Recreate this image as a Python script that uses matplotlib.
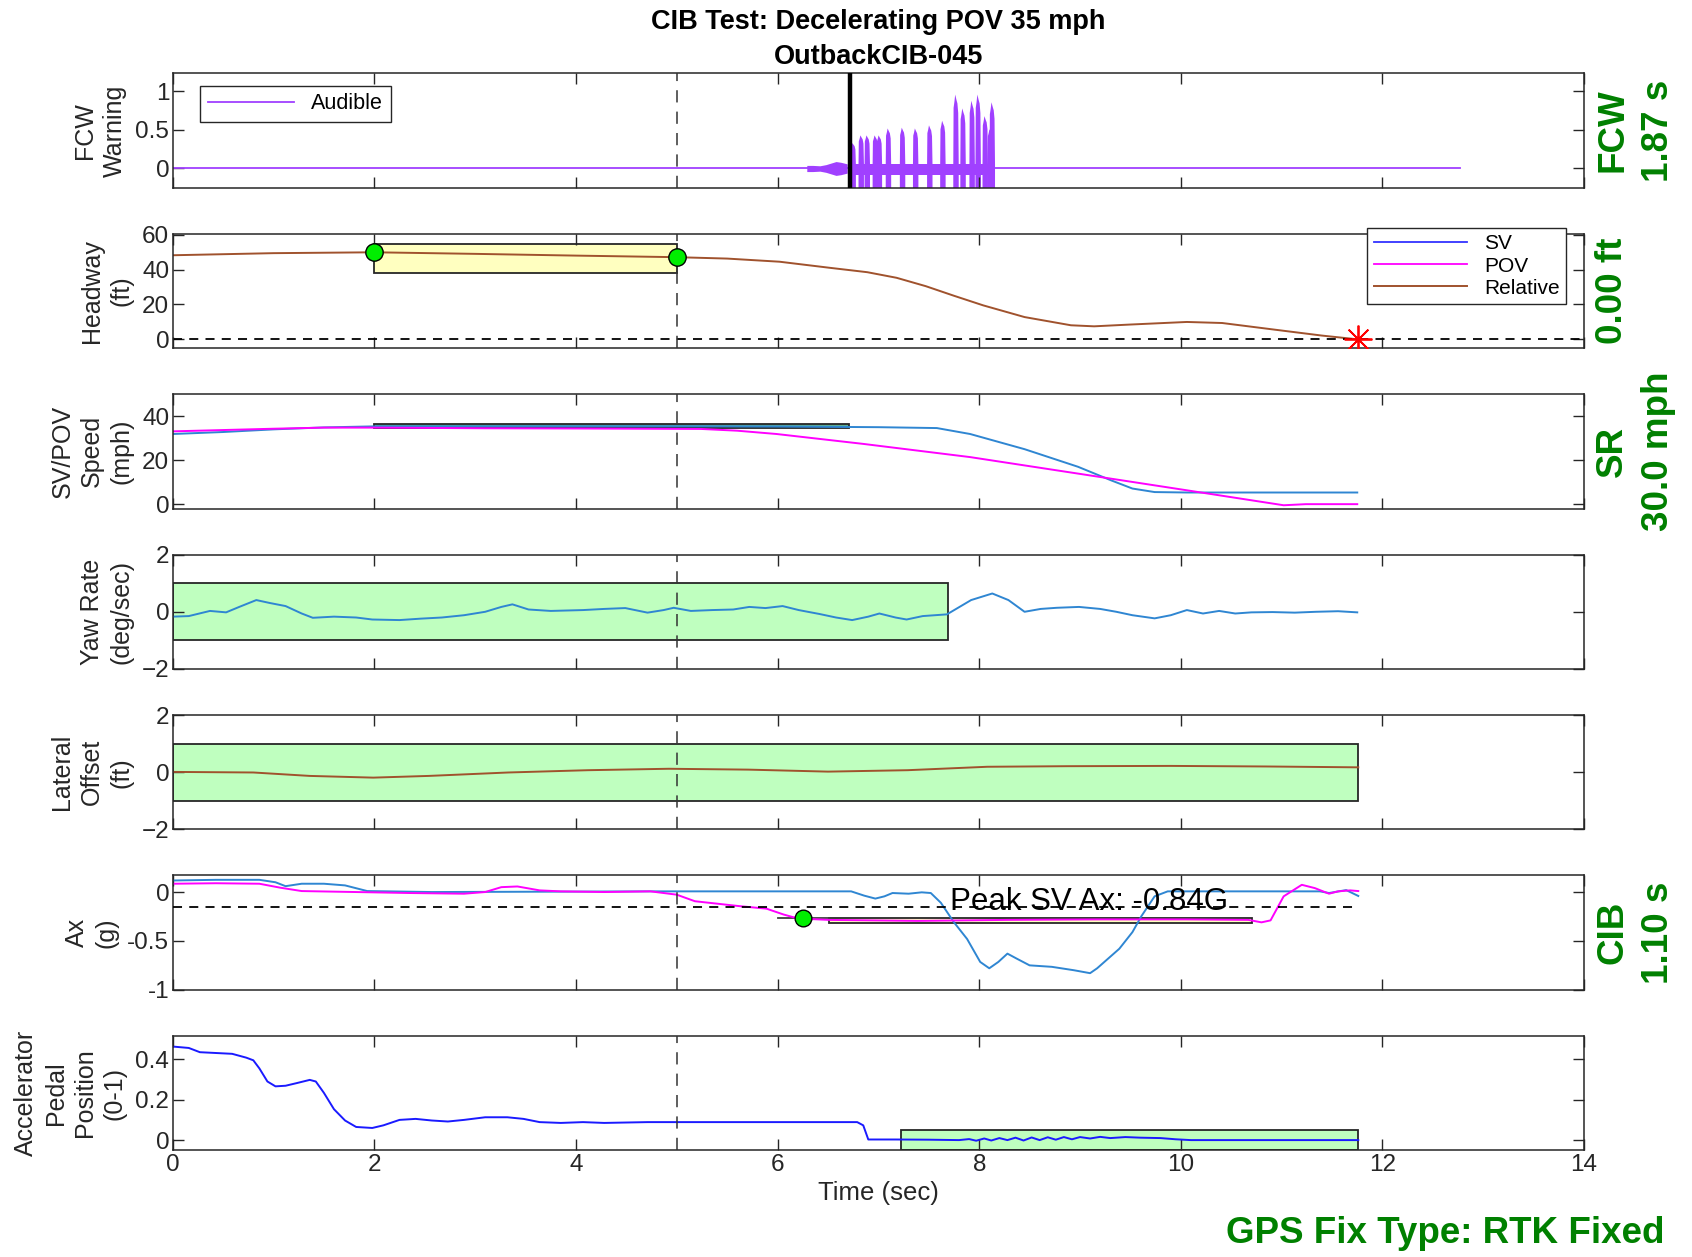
import numpy as np
import matplotlib
matplotlib.use("Agg")
import matplotlib.pyplot as plt
from matplotlib.patches import Rectangle

plt.rcParams['font.family'] = ['Liberation Sans', 'DejaVu Sans']

# ---- data ----
# FCW audible warning (envelope of the beep bursts)
fcw_line_end = 12.77
fcw_alert_t = 6.72
noise_t = [6.29, 6.35, 6.42, 6.48, 6.53, 6.58, 6.63, 6.69]
noise_amp = [0.04, 0.04, 0.035, 0.05, 0.07, 0.09, 0.08, 0.06]
pulse_t = [6.75, 6.83, 6.89, 6.97, 7.01, 7.10, 7.24, 7.37, 7.51, 7.64, 7.77, 7.84, 7.93, 7.99, 8.06, 8.11, 8.13]
pulse_peak = [0.33, 0.43, 0.43, 0.43, 0.43, 0.52, 0.53, 0.52, 0.56, 0.62, 0.96, 0.78, 0.88, 0.96, 0.68, 0.51, 0.86]
burst_span = (6.72, 8.14)

# headway (relative range, ft)
hw_t = [0.0, 1.0, 2.0, 3.0, 4.0, 5.0, 5.5, 6.02, 6.52, 6.89, 7.18, 7.47, 7.75, 8.04, 8.45, 8.91, 9.14, 9.49, 10.06, 10.41, 10.93, 11.40, 11.76]
hw_rel = [48.2, 49.4, 49.9, 49.0, 48.0, 47.1, 46.3, 44.5, 41.0, 38.5, 35.3, 30.5, 25.0, 19.5, 12.8, 8.1, 7.5, 8.5, 10.0, 9.4, 5.6, 2.2, 0.0]
hw_box = (2.0, 5.0, 38.0, 54.5)
hw_dots_t = [2.0, 5.0]
hw_dots_v = [49.9, 47.1]
hw_impact = (11.76, 0.0)

# speeds (mph)
sv_spd_t = [0.0, 0.5, 1.0, 1.5, 2.03, 3.0, 4.0, 5.0, 6.0, 7.0, 7.58, 7.91, 8.45, 8.98, 9.31, 9.52, 9.74, 10.06, 11.75]
sv_spd = [31.9, 32.8, 34.0, 34.9, 35.4, 35.4, 35.4, 35.4, 35.3, 35.0, 34.6, 31.9, 25.0, 17.0, 10.8, 7.1, 5.5, 5.3, 5.3]
pov_spd_t = [0.0, 0.5, 1.0, 1.5, 2.0, 3.1, 4.0, 5.24, 5.6, 5.99, 6.85, 7.91, 8.98, 10.06, 11.02, 11.24, 11.75]
pov_spd = [33.1, 33.7, 34.3, 34.8, 34.8, 34.5, 34.4, 34.2, 33.4, 31.9, 27.4, 21.4, 13.9, 6.3, -0.5, 0.0, 0.0]
spd_box = (2.0, 6.71, 34.5, 36.5)

# yaw rate (deg/sec)
yaw_t = [0.0, 0.16, 0.37, 0.53, 0.66, 0.83, 0.96, 1.12, 1.28, 1.39, 1.60, 1.82, 1.98, 2.25, 2.46, 2.67,
         2.89, 3.10, 3.26, 3.37, 3.53, 3.75, 4.07, 4.28, 4.49, 4.71, 4.87, 4.97, 5.14, 5.35, 5.56, 5.72,
         5.88, 6.05, 6.21, 6.42, 6.58, 6.74, 6.90, 7.01, 7.17, 7.28, 7.44, 7.68, 7.92, 8.13, 8.29, 8.45,
         8.61, 8.77, 8.99, 9.20, 9.36, 9.52, 9.74, 9.90, 10.06, 10.22, 10.38, 10.54, 10.70, 10.91, 11.13,
         11.34, 11.56, 11.75]
yaw = [-0.17, -0.15, 0.03, -0.02, 0.17, 0.41, 0.31, 0.20, -0.06, -0.21, -0.17, -0.20, -0.27, -0.29, -0.24, -0.20,
       -0.12, 0.0, 0.17, 0.26, 0.08, 0.03, 0.06, 0.10, 0.13, -0.03, 0.06, 0.14, 0.03, 0.06, 0.08, 0.17,
       0.13, 0.20, 0.06, -0.08, -0.20, -0.29, -0.17, -0.06, -0.20, -0.27, -0.15, -0.09, 0.41, 0.64, 0.41, 0.0,
       0.10, 0.14, 0.17, 0.10, 0.0, -0.12, -0.23, -0.12, 0.06, -0.06, 0.03, -0.06, -0.02, -0.01, -0.03,
       0.0, 0.02, -0.02]
yaw_box = (0.0, 7.69, -1.0, 1.0)

# lateral offset (ft)
lat_t = [0.01, 0.80, 1.36, 1.99, 2.54, 3.33, 4.12, 4.92, 5.71, 6.50, 7.29, 8.08, 8.87, 9.90, 10.85, 11.76]
lat = [0.01, -0.01, -0.13, -0.19, -0.13, -0.01, 0.07, 0.12, 0.09, 0.02, 0.07, 0.19, 0.21, 0.22, 0.20, 0.17]
lat_box = (0.0, 11.76, -1.0, 1.0)

# longitudinal acceleration (g)
sv_ax_t = [0.0, 0.43, 0.86, 1.02, 1.12, 1.28, 1.50, 1.71, 1.93, 2.14, 2.57, 4.74, 6.73, 6.86, 6.97, 7.06,
           7.14, 7.30, 7.43, 7.52, 7.62, 7.75, 7.88, 8.01, 8.10, 8.19, 8.28, 8.37, 8.50, 8.72, 8.94, 9.10,
           9.17, 9.39, 9.52, 9.61, 9.74, 9.87, 11.38, 11.47, 11.64, 11.76]
sv_ax = [0.118, 0.125, 0.125, 0.10, 0.06, 0.085, 0.085, 0.068, 0.01, 0.007, 0.0, 0.007, 0.007, -0.037, -0.067, -0.044,
         -0.01, -0.017, -0.003, -0.01, -0.11, -0.31, -0.48, -0.715, -0.78, -0.715, -0.63, -0.68, -0.75, -0.765, -0.80, -0.83,
         -0.78, -0.58, -0.41, -0.245, -0.044, 0.007, 0.007, -0.01, 0.02, -0.04]
pov_ax_t = [0.0, 0.43, 0.86, 1.07, 1.28, 1.82, 2.35, 2.89, 3.10, 3.26, 3.42, 3.64, 3.85, 4.28, 4.74, 5.0,
            5.18, 5.62, 5.89, 6.06, 6.20, 6.51, 7.39, 8.28, 9.17, 10.05, 10.67, 10.80, 10.89, 11.02, 11.20,
            11.33, 11.47, 11.56, 11.68, 11.76]
pov_ax = [0.085, 0.09, 0.085, 0.044, 0.01, 0.0, -0.01, -0.017, 0.0, 0.05, 0.057, 0.017, 0.007, 0.0, 0.007, -0.027,
          -0.094, -0.144, -0.17, -0.23, -0.27, -0.285, -0.295, -0.285, -0.28, -0.28, -0.285, -0.31, -0.29, -0.044, 0.074,
          0.04, -0.017, 0.007, 0.017, 0.01]
ax_thresh = -0.15
ax_box = (6.51, 10.71, -0.32, -0.262)
ax_dot = (6.25, -0.27)
peak_label = "Peak SV Ax: -0.84G"

# accelerator pedal position (0-1)
ped_t = [0.0, 0.16, 0.27, 0.43, 0.59, 0.73, 0.80, 0.86, 0.94, 1.02, 1.12, 1.23, 1.36, 1.42, 1.50, 1.60, 1.71,
         1.82, 1.98, 2.09, 2.25, 2.41, 2.57, 2.73, 2.89, 3.10, 3.32, 3.48, 3.64, 3.85, 4.07, 4.28, 4.71, 5.78,
         6.79, 6.85, 6.90, 7.17, 7.5, 7.8, 7.9, 7.97, 8.05, 8.12, 8.2, 8.28, 8.36, 8.44, 8.52, 8.6, 8.68,
         8.76, 8.84, 8.92, 9.0, 9.1, 9.2, 9.3, 9.45, 9.6, 9.8, 9.95, 10.1, 11.76]
ped = [0.463, 0.456, 0.435, 0.431, 0.427, 0.408, 0.395, 0.355, 0.29, 0.266, 0.269, 0.282, 0.298, 0.29, 0.234, 0.153, 0.097,
       0.065, 0.06, 0.073, 0.10, 0.105, 0.097, 0.092, 0.10, 0.113, 0.113, 0.105, 0.089, 0.085, 0.089, 0.085, 0.089, 0.089,
       0.089, 0.073, 0.003, 0.003, 0.002, 0.0, 0.005, -0.003, 0.008, -0.002, 0.01, 0.0, 0.012, -0.002, 0.013, 0.0, 0.014,
       0.002, 0.015, 0.004, 0.015, 0.008, 0.016, 0.01, 0.015, 0.012, 0.01, 0.004, 0.0, 0.0]
ped_box = (7.22, 11.76, -0.05, 0.05)

# ---- colours ----
c_aud = '#a040ff'
c_sv = '#2f86d2'
c_pov = '#ff00ff'
c_rel = '#a0522d'
c_ped = '#1a1aff'
c_green = '#008000'
c_box_g = '#bfffbf'
c_box_y = '#ffffc0'

fig = plt.figure(figsize=(16.92, 12.57), dpi=100)
W, H = 1568.0, 1165.0
left, width = 160 / W, 1308 / W
tops = [68 + 148.67 * k for k in range(7)]
axes = [fig.add_axes([left, 1 - (t + 106) / H, width, 106 / H]) for t in tops]


def style(ax, ylim, yticks, ylabel, labels=False):
    ax.set_xlim(0, 14)
    ax.set_ylim(*ylim)
    ax.set_xticks(range(0, 15, 2))
    ax.set_yticks(yticks)
    ax.tick_params(direction='in', length=8, width=1, top=True, right=True, pad=2.5,
                   labelsize=17.5, colors='#262626', labelbottom=labels)
    for s in ax.spines.values():
        s.set_color('#262626')
        s.set_linewidth(1.1)
    ax.set_ylabel(ylabel, fontsize=18, color='#262626', linespacing=1.3, labelpad=6)
    ax.axvline(5, color='#333333', lw=1.1, ls=(0, (8, 6)), zorder=4)


def box(ax, b, face):
    ax.add_patch(Rectangle((b[0], b[2]), b[1] - b[0], b[3] - b[2], facecolor=face,
                           edgecolor='#262626', lw=1.3, zorder=1))


def side(ax, txt):
    ax.text(1.008, 0.5, txt, transform=ax.transAxes, rotation=90, ha='left', va='center',
            multialignment='center', fontsize=26.5, fontweight='bold', color=c_green, linespacing=1.4)


# FCW warning
ax = axes[0]
aud, = ax.plot([0, fcw_line_end], [0, 0], color=c_aud, lw=1.3, label='Audible')
ax.fill_between(noise_t, [-a for a in noise_amp], noise_amp, color=c_aud, lw=0)
ax.fill_between(burst_span, [-0.09, -0.09], [0.06, 0.06], color=c_aud, lw=0)
for t, p in zip(pulse_t, pulse_peak):
    ax.fill([t - 0.027, t - 0.024, t - 0.016, t - 0.008, t + 0.004, t + 0.014, t + 0.022, t + 0.027,
             t + 0.027, t - 0.027],
            [0.05, p * 0.82, p * 0.9, p, p * 0.93, p * 0.88, p * 0.75, 0.05, -0.4, -0.4],
            color=c_aud, lw=0)
ax.axvline(fcw_alert_t, color='black', lw=3.2, zorder=5)
style(ax, (-0.25, 1.235), [0, 0.5, 1], 'FCW\nWarning')
ax.set_yticklabels(['0', '0.5', '1'])
ax.legend(handles=[aud], loc='upper left', bbox_to_anchor=(0.012, 0.985), fontsize=15.5,
          handlelength=4.0, fancybox=False, edgecolor='#262626', framealpha=1, borderpad=0.35)
side(ax, 'FCW\n1.87 s')
ax.set_title('CIB Test: Decelerating POV 35 mph\nOutbackCIB-045', fontsize=19.5, fontweight='bold',
             linespacing=1.45, pad=7)

# headway
ax = axes[1]
box(ax, hw_box, c_box_y)
l1, = ax.plot([], [], color='#3333ff', lw=1.3, label='SV')
l2, = ax.plot([], [], color=c_pov, lw=1.3, label='POV')
l3, = ax.plot(hw_t, hw_rel, color=c_rel, lw=1.4, label='Relative', zorder=2)
ax.axhline(0, color='black', lw=1.3, ls=(0, (5, 4)), zorder=2)
ax.plot(hw_dots_t, hw_dots_v, 'o', ms=12.5, mfc='#00ee00', mec='black', mew=1, zorder=5)
ax.plot([hw_impact[0]], [hw_impact[1]], marker=(8, 2, 0), ms=20, color='red', mew=1.3, zorder=5)
style(ax, (-5, 60.5), [0, 20, 40, 60], 'Headway\n(ft)')
ax.legend(handles=[l1, l2, l3], loc='upper right', bbox_to_anchor=(0.9945, 1.14), fontsize=15,
          handlelength=4.5, labelspacing=0.15, fancybox=False, edgecolor='#262626', framealpha=1,
          borderpad=0.3)
side(ax, '0.00 ft')

# speed
ax = axes[2]
box(ax, spd_box, '#5fb08f')
ax.plot(sv_spd_t, sv_spd, color=c_sv, lw=1.4, zorder=2)
ax.plot(pov_spd_t, pov_spd, color=c_pov, lw=1.4, zorder=2)
style(ax, (-2, 50), [0, 20, 40], 'SV/POV\nSpeed\n(mph)')
side(ax, 'SR\n30.0 mph')

# yaw rate
ax = axes[3]
box(ax, yaw_box, c_box_g)
ax.plot(yaw_t, yaw, color=c_sv, lw=1.4, zorder=2)
style(ax, (-2, 2), [-2, 0, 2], 'Yaw Rate\n(deg/sec)')

# lateral offset
ax = axes[4]
box(ax, lat_box, c_box_g)
ax.plot(lat_t, lat, color=c_rel, lw=1.4, zorder=2)
style(ax, (-2, 2), [-2, 0, 2], 'Lateral\nOffset\n(ft)')

# Ax
ax = axes[5]
box(ax, ax_box, c_box_y)
ax.plot([6.0, ax_box[0]], [ax_box[3], ax_box[3]], color='#404040', lw=1.3, zorder=2)
ax.plot(sv_ax_t, sv_ax, color=c_sv, lw=1.4, zorder=2)
ax.plot(pov_ax_t, pov_ax, color=c_pov, lw=1.4, zorder=2)
ax.plot([0, 11.76], [ax_thresh, ax_thresh], color='black', lw=1.3, ls=(0, (5, 4)), zorder=3)
ax.plot([ax_dot[0]], [ax_dot[1]], 'o', ms=12, mfc='#00ee00', mec='black', mew=1, zorder=5)
ax.text(7.71, -0.1, peak_label, fontsize=22.5, va='center', ha='left', color='black', zorder=6)
style(ax, (-1, 0.17), [-1, -0.5, 0], 'Ax\n(g)')
ax.set_yticklabels(['-1', '-0.5', '0'])
side(ax, 'CIB\n1.10 s')

# pedal
ax = axes[6]
box(ax, ped_box, c_box_g)
ax.plot(ped_t, ped, color=c_ped, lw=1.4, zorder=2)
style(ax, (-0.05, 0.516), [0, 0.2, 0.4], 'Accelerator\nPedal\nPosition\n(0-1)', labels=True)
ax.set_yticklabels(['0', '0.2', '0.4'])
ax.set_xlabel('Time (sec)', fontsize=18.5, color='#262626', labelpad=4)

fig.text(0.984, 0.019, 'GPS Fix Type: RTK Fixed', ha='right', va='center', fontsize=26.5,
         fontweight='bold', color=c_green)

fig.savefig('out.png', dpi=100)
